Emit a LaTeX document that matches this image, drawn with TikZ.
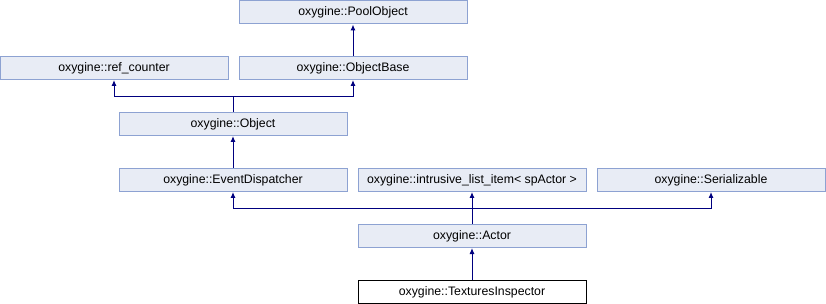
\documentclass[tikz,border=0pt]{standalone}
\usepackage{fontspec}
\setmainfont{Liberation Sans}
\usetikzlibrary{arrows.meta}

\definecolor{boxfill}{HTML}{E8ECF5}
\definecolor{boxline}{HTML}{8DA2D2}
\definecolor{edgeblue}{HTML}{00007F}

\tikzset{
    cls/.style={draw=boxline, fill=boxfill, line width=1pt, minimum width=228pt,
        minimum height=23pt, inner sep=0pt, font=\fontsize{12.3}{14}\selectfont},
    self/.style={cls, draw=black, fill=white},
    link/.style={draw=edgeblue, line width=1pt},
    inherit/.style={link, -{Latex[length=6pt,width=5pt]}}
}

\begin{document}
\begin{tikzpicture}[x=1pt, y=-1pt]
        \useasboundingbox (0, 0) rectangle (826, 304);

        \node[cls] (pool) at (353, 12.5) {oxygine::PoolObject};
        \node[cls] (refcnt) at (114, 68) {oxygine::ref\_counter};
        \node[cls] (objbase) at (353, 68) {oxygine::ObjectBase};
        \node[cls] (object) at (233, 124) {oxygine::Object};
        \node[cls] (dispatch) at (233, 180) {oxygine::EventDispatcher};
        \node[cls] (listitem) at (472, 180) {oxygine::intrusive\_list\_item< spActor >};
        \node[cls] (serial) at (711, 180) {oxygine::Serializable};
        \node[cls] (actor) at (472, 236) {oxygine::Actor};
        \node[self] (inspect) at (472, 292) {oxygine::TexturesInspector};

        \coordinate (J1) at (233, 96.5);
        \coordinate (J2) at (472, 208.5);

        \draw[inherit] (objbase) -- (pool);
        \draw[link] (object.north) -- (J1);
        \draw[inherit] (J1) -| (refcnt.south);
        \draw[inherit] (J1) -| (objbase.south);
        \draw[inherit] (dispatch) -- (object);
        \draw[link] (actor.north) -- (J2);
        \draw[inherit] (J2) -| (dispatch.south);
        \draw[inherit] (J2) -- (listitem.south);
        \draw[inherit] (J2) -| (serial.south);
        \draw[inherit] (inspect) -- (actor);
    \end{tikzpicture}
\end{document}
